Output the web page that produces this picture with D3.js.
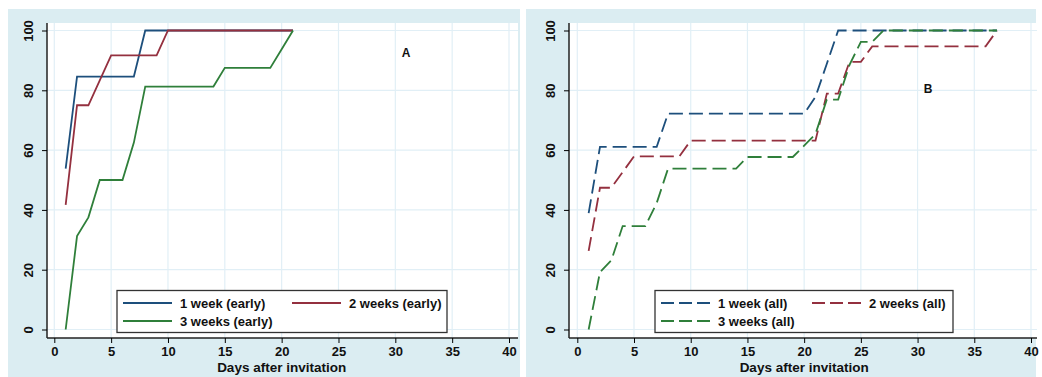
<!DOCTYPE html>
<html>
<head>
<meta charset="utf-8">
<script src="https://cdn.jsdelivr.net/npm/d3@7"></script>
<style>
  body { margin: 0; background: #fff; }
  svg { display: block; font-family: "Liberation Sans", Arial, sans-serif; }
</style>
</head>
<body>
<svg id="chart" width="1042" height="377"></svg>
<script>
// day values and cumulative % for each group
var earlyWeek1Days = [1, 2, 7, 8, 21];
var earlyWeek1Pct = [53.8, 84.6, 84.6, 100, 100];
var earlyWeek2Days = [1, 2, 3, 5, 9, 10, 21];
var earlyWeek2Pct = [41.7, 75, 75, 91.7, 91.7, 100, 100];
var earlyWeek3Days = [1, 2, 3, 4, 6, 7, 8, 14, 15, 19, 20, 21];
var earlyWeek3Pct = [0, 31.25, 37.5, 50, 50, 62.5, 81.25, 81.25, 87.5, 87.5, 93.75, 100];

var allWeek1Days = [1, 2, 7, 8, 20, 21, 22, 23, 37];
var allWeek1Pct = [38.9, 61.1, 61.1, 72.2, 72.2, 77.8, 88.9, 100, 100];
var allWeek2Days = [1, 2, 3, 5, 9, 10, 21, 22, 23, 24, 25, 26, 36, 37];
var allWeek2Pct = [26.3, 47.4, 47.4, 57.9, 57.9, 63.2, 63.2, 78.9, 78.9, 89.5, 89.5, 94.7, 94.7, 100];
var allWeek3Days = [1, 2, 3, 4, 6, 7, 8, 14, 15, 19, 20, 21, 22, 23, 24, 25, 26, 27, 37];
var allWeek3Pct = [0, 19.2, 23.1, 34.6, 34.6, 42.3, 53.8, 53.8, 57.7, 57.7, 61.5, 65.4, 76.9, 76.9, 88.5, 96.2, 96.2, 100, 100];

var xTicks = [0, 5, 10, 15, 20, 25, 30, 35, 40];
var yTicks = [0, 20, 40, 60, 80, 100];
var earlyLabels = ["1 week (early)", "2 weeks (early)", "3 weeks (early)"];
var allLabels = ["1 week (all)", "2 weeks (all)", "3 weeks (all)"];
var colors = ["#1d4f7c", "#94303f", "#2f7f3a"];

var svg = d3.select("#chart");

function zip(days, pct) {
  return days.map(function(d, i) { return { day: d, pct: pct[i] }; });
}

function drawPanel(opt) {
  var g = svg.append("g");
  // panel background
  g.append("rect")
    .attr("x", opt.bgX).attr("y", 9)
    .attr("width", opt.bgW).attr("height", 368)
    .attr("fill", "#dbedf2");
  g.append("rect")
    .attr("x", opt.plotX).attr("y", 23)
    .attr("width", opt.plotW).attr("height", 315)
    .attr("fill", "#ffffff");

  var x = d3.scaleLinear().domain([0, 40]).range([opt.x0, opt.x40]);
  var y = d3.scaleLinear().domain([0, 100]).range([329.5, 30.5]);

  // grid
  g.selectAll(".gx").data(xTicks).enter().append("line")
    .attr("x1", function(d) { return x(d); }).attr("x2", function(d) { return x(d); })
    .attr("y1", 23).attr("y2", 338)
    .attr("stroke", "#e1eff6").attr("stroke-width", 1.2);
  g.selectAll(".gy").data(yTicks).enter().append("line")
    .attr("x1", opt.plotX).attr("x2", opt.plotX + opt.plotW)
    .attr("y1", function(d) { return y(d); }).attr("y2", function(d) { return y(d); })
    .attr("stroke", "#e1eff6").attr("stroke-width", 1.2);

  // axes
  var xAxis = g.append("g")
    .attr("transform", "translate(0,338)")
    .call(d3.axisBottom(x).tickValues(xTicks).tickSize(5).tickPadding(4).tickSizeOuter(0));
  xAxis.select(".domain").attr("d", "M" + (opt.plotX) + ",0H" + (opt.plotX + opt.plotW))
    .attr("stroke", "#222").attr("stroke-width", 1.5);
  xAxis.selectAll("text").attr("font-size", "13px").attr("font-weight", "bold").attr("fill", "#111");

  var yAxis = g.append("g")
    .attr("transform", "translate(" + opt.plotX + ",0)")
    .call(d3.axisLeft(y).tickValues(yTicks).tickSize(5).tickSizeOuter(0));
  yAxis.select(".domain").attr("d", "M0,23V338")
    .attr("stroke", "#222").attr("stroke-width", 1.5);
  yAxis.selectAll("text")
    .attr("font-size", "13px").attr("font-weight", "bold").attr("fill", "#111")
    .attr("text-anchor", "middle")
    .attr("x", null).attr("dy", null)
    .attr("transform", "translate(-14,0) rotate(-90)");

  g.append("text")
    .attr("x", (opt.x0 + opt.x40) / 2).attr("y", 372)
    .attr("text-anchor", "middle")
    .attr("font-size", "13.5px").attr("font-weight", "bold").attr("fill", "#111")
    .text("Days after invitation");

  // lines
  var line = d3.line()
    .x(function(d) { return x(d.day); })
    .y(function(d) { return y(d.pct); });
  opt.series.forEach(function(s, i) {
    g.append("path")
      .datum(s)
      .attr("d", line)
      .attr("fill", "none")
      .attr("stroke", colors[i])
      .attr("stroke-width", 1.8)
      .attr("stroke-dasharray", opt.dash);
  });

  // panel letter
  g.append("text")
    .attr("x", opt.letterX).attr("y", opt.letterY)
    .attr("text-anchor", "middle")
    .attr("font-size", "12px").attr("font-weight", "bold").attr("fill", "#111")
    .text(opt.letter);

  // legend
  var lg = g.append("g");
  lg.append("rect")
    .attr("x", opt.legX).attr("y", 290.5)
    .attr("width", opt.legW).attr("height", 42)
    .attr("fill", "#fff").attr("stroke", "#333").attr("stroke-width", 1.3);
  var pos = [[0, 0], [1, 0], [0, 1]];
  opt.labels.forEach(function(lab, i) {
    var lx = opt.legX + 6 + pos[i][0] * opt.colW;
    var ly = 303 + pos[i][1] * 18;
    lg.append("line")
      .attr("x1", lx).attr("x2", lx + 49)
      .attr("y1", ly).attr("y2", ly)
      .attr("stroke", colors[i]).attr("stroke-width", 1.8)
      .attr("stroke-dasharray", opt.legDash);
    lg.append("text")
      .attr("x", lx + 57).attr("y", ly + 4.5)
      .attr("font-size", "13px").attr("font-weight", "bold").attr("fill", "#111")
      .text(lab);
  });
}

drawPanel({
  bgX: 8, bgW: 512, plotX: 47, plotW: 471, x0: 54.3, x40: 509,
  series: [zip(earlyWeek1Days, earlyWeek1Pct), zip(earlyWeek2Days, earlyWeek2Pct), zip(earlyWeek3Days, earlyWeek3Pct)],
  labels: earlyLabels, dash: null, legDash: null,
  letter: "A", letterX: 406, letterY: 57,
  legX: 117, legW: 330, colW: 169
});

drawPanel({
  bgX: 526, bgW: 510, plotX: 569, plotW: 468, x0: 577.3, x40: 1031,
  series: [zip(allWeek1Days, allWeek1Pct), zip(allWeek2Days, allWeek2Pct), zip(allWeek3Days, allWeek3Pct)],
  labels: allLabels, dash: "14,6", legDash: "13,5",
  letter: "B", letterX: 928, letterY: 93,
  legX: 655, legW: 298, colW: 151
});
</script>
</body>
</html>
